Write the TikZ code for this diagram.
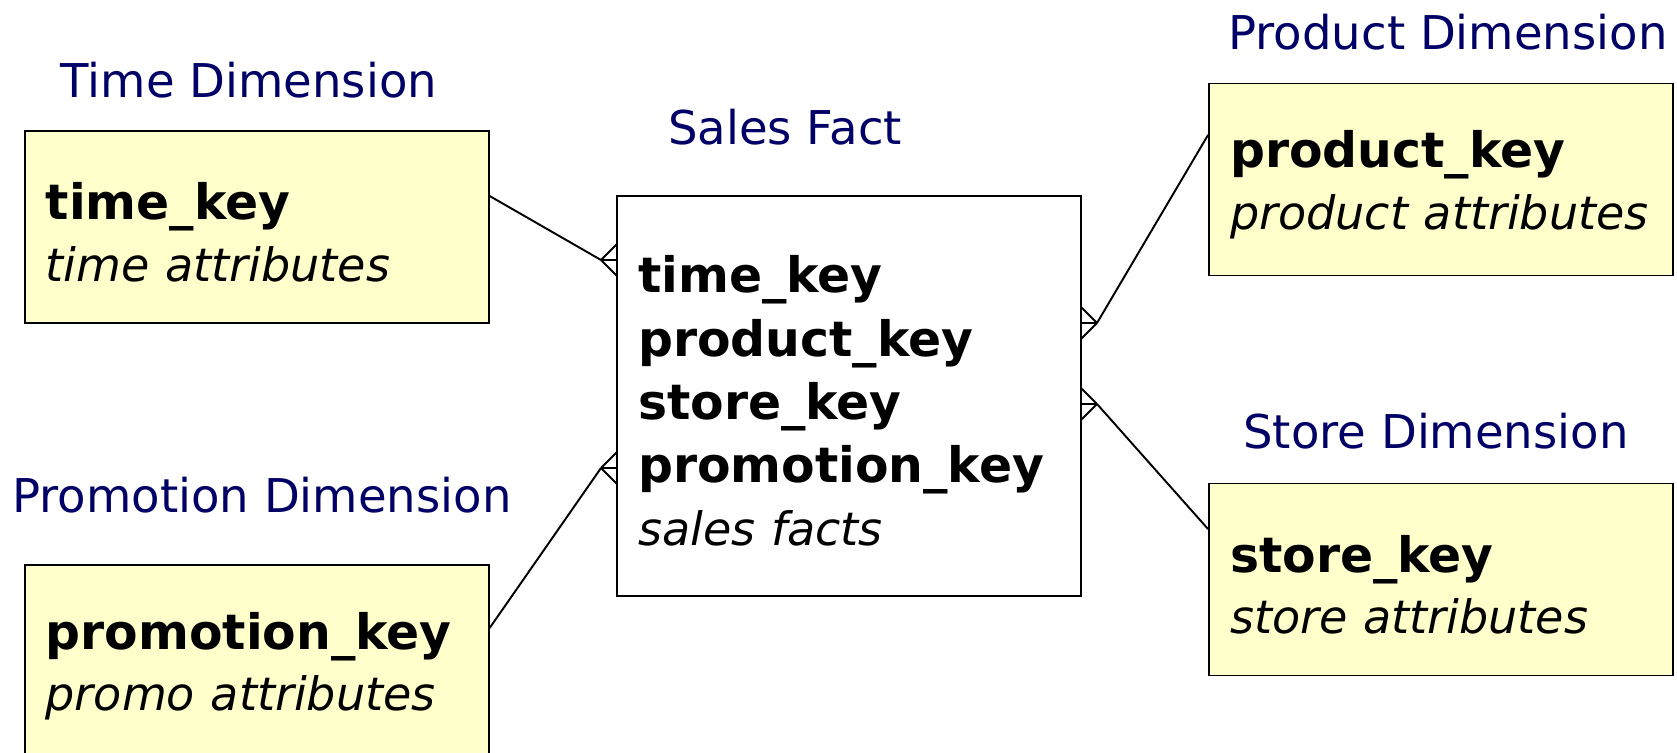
\documentclass[tikz,border=0pt]{standalone}
\usepackage{fontspec}
\setmainfont{DejaVu Sans}
\usetikzlibrary{calc}
\definecolor{titleblue}{HTML}{000066}
\definecolor{dimfill}{HTML}{FFFFCC}
\newcommand{\keyln}[1]{\mbox{\rule{0pt}{27pt}\fontsize{27.8}{35}\selectfont\bfseries #1}}
\newcommand{\attrln}[1]{\mbox{\fontsize{26.2}{35}\selectfont\itshape #1}}
\tikzset{
  dimbox/.style={draw, line width=1.1pt, fill=dimfill, minimum width=9.28cm, minimum height=3.84cm,
    text width=8.44cm, inner xsep=0.42cm, align=left, font=\fontsize{27}{35}\selectfont},
  factbox/.style={dimbox, fill=white, minimum height=8.02cm, font=\fontsize{27}{36}\selectfont},
  boxtitle/.style={text=titleblue, inner sep=0pt, font=\fontsize{26.5}{30}\selectfont},
  link/.style={line width=1.1pt}
}
\begin{document}
\begin{tikzpicture}[x=0.02cm, y=-0.02cm]
    \useasboundingbox (0,0) rectangle (1677,753);
    % boxes
    \node[dimbox] (time) at (256.7,227) {\keyln{time\_key}\\\attrln{time attributes}};
    \node[dimbox] (promo) at (256.7,661) {\keyln{promotion\_key}\\\attrln{promo attributes}};
    \node[factbox] (fact) at (849,396) {\keyln{time\_key}\\\keyln{product\_key}\\\keyln{store\_key}\\\keyln{promotion\_key}\\\attrln{sales facts}};
    \node[dimbox] (product) at (1441,179.5) {\keyln{product\_key}\\\attrln{product attributes}};
    \node[dimbox] (store) at (1441,579.5) {\keyln{store\_key}\\\attrln{store attributes}};
    % titles
    \node[boxtitle] (timetitle) at (249,80) {Time Dimension};
    \node[boxtitle] (facttitle) at (785,127) {Sales Fact};
    \node[boxtitle] (producttitle) at (1448,32) {Product Dimension};
    \node[boxtitle] (storetitle) at (1436,431) {Store Dimension};
    \node[boxtitle] (promotitle) at (262,495) {Promotion Dimension};
    % crow's feet tips
    \coordinate (ftime) at (601,260);
    \coordinate (fpromo) at (601,468);
    \coordinate (fproduct) at (1097,323);
    \coordinate (fstore) at (1097,404);
    % connectors
    \draw[link] ($(time.north east)!0.34!(time.south east)$) -- (ftime);
    \draw[link] ($(promo.north east)!0.33!(promo.south east)$) -- (fpromo);
    \draw[link] ($(product.north west)!0.27!(product.south west)$) -- (fproduct);
    \draw[link] ($(store.north west)!0.24!(store.south west)$) -- (fstore);
    \foreach \f in {ftime,fpromo}
      \draw[link] (\f) -- ++(16,-16) (\f) -- ++(16,0) (\f) -- ++(16,16);
    \foreach \f in {fproduct,fstore}
      \draw[link] (\f) -- ++(-16,-16) (\f) -- ++(-16,0) (\f) -- ++(-16,16);
\end{tikzpicture}
\end{document}
